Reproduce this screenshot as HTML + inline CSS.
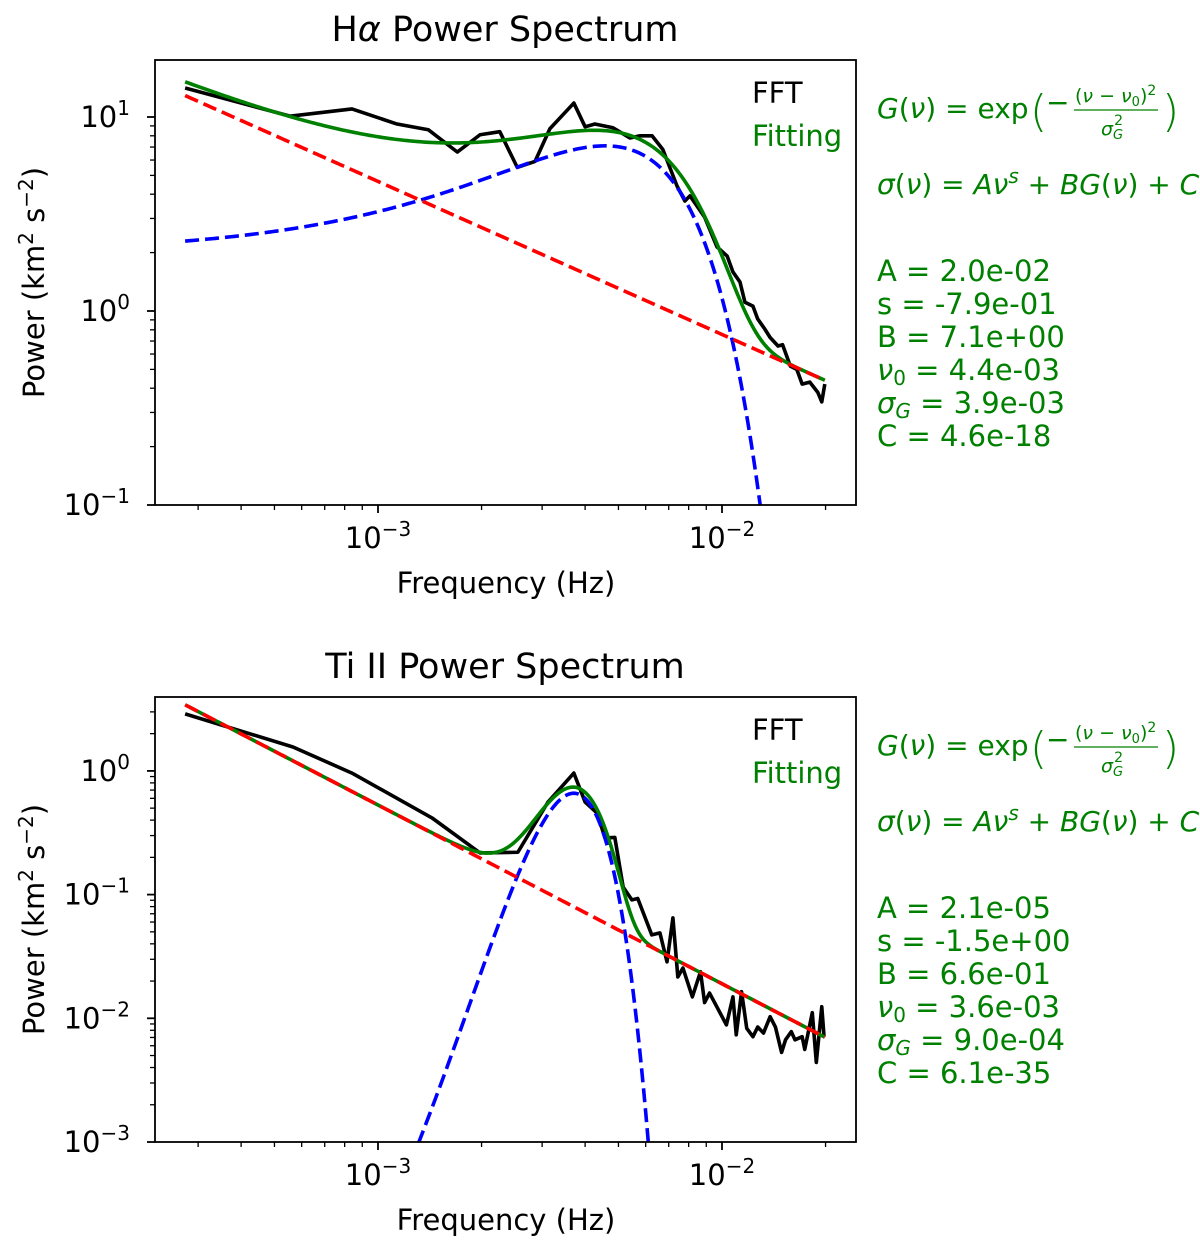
<!DOCTYPE html>
<html><head><meta charset="utf-8">
<style>
html,body{margin:0;padding:0;background:#fff;overflow:hidden;width:1200px;height:1245px;}
svg{display:block;font-family:"DejaVu Sans","Liberation Sans",sans-serif;}
</style></head>
<body>
<svg id="chart" width="1200" height="1245" viewBox="0 0 1200 1245" xmlns="http://www.w3.org/2000/svg"></svg>
<script>
// ---------- Data: H-alpha panel ----------
const haFreq = [2.75e-4,5.55e-4,8.4e-4,1.136e-3,1.40e-3,1.70e-3,1.98e-3,2.26e-3,2.54e-3,2.86e-3,3.16e-3,3.71e-3,4.0e-3,4.27e-3,4.82e-3,5.4e-3,5.78e-3,6.26e-3,6.73e-3,7.4e-3,7.8e-3,8.07e-3,8.9e-3,9.67e-3,1.035e-2,1.076e-2,1.128e-2,1.166e-2,1.23e-2,1.27e-2,1.33e-2,1.38e-2,1.455e-2,1.50e-2,1.58e-2,1.65e-2,1.71e-2,1.80e-2,1.90e-2,1.95e-2,1.99e-2];
const haPower = [14.1,10.1,11.0,9.2,8.6,6.6,8.1,8.4,5.5,5.9,8.7,11.8,8.9,9.2,8.8,7.8,8.0,8.0,6.8,4.41,3.69,3.92,3.05,2.14,1.92,1.59,1.41,1.11,1.06,0.91,0.81,0.73,0.66,0.67,0.52,0.50,0.42,0.43,0.38,0.34,0.42];
const haFit = {A:2.0e-2, s:-0.789, B:7.1, nu0:4.57e-3, sig:4.04e-3, C:4.6e-18};
const haParamText = ["A = 2.0e-02","s = -7.9e-01","B = 7.1e+00","ν0 = 4.4e-03","σG = 3.9e-03","C = 4.6e-18"];

// ---------- Data: Ti II panel ----------
const tiFreq = [2.75e-4,5.66e-4,8.4e-4,1.435e-3,1.98e-3,2.55e-3,3.12e-3,3.71e-3,4.0e-3,4.33e-3,4.57e-3,4.88e-3,5.16e-3,5.47e-3,5.69e-3,6.25e-3,6.6e-3,6.92e-3,7.2e-3,7.44e-3,7.7e-3,8.2e-3,8.66e-3,8.9e-3,9.2e-3,1.03e-2,1.076e-2,1.1e-2,1.14e-2,1.18e-2,1.23e-2,1.27e-2,1.32e-2,1.38e-2,1.43e-2,1.49e-2,1.53e-2,1.59e-2,1.63e-2,1.71e-2,1.74e-2,1.83e-2,1.88e-2,1.95e-2,1.98e-2];
const tiPower = [2.89,1.56,0.96,0.417,0.217,0.22,0.56,0.96,0.56,0.457,0.287,0.29,0.115,0.0906,0.093,0.0472,0.049,0.0286,0.0648,0.0216,0.0255,0.0149,0.0238,0.0134,0.016,0.00885,0.0149,0.00735,0.0164,0.0083,0.0071,0.0085,0.0076,0.0103,0.0085,0.0053,0.0067,0.0078,0.0067,0.0071,0.0056,0.0111,0.0044,0.0124,0.0071];
const tiFit = {A:2.45e-5, s:-1.445, B:0.66, nu0:3.71e-3, sig:9.4e-4, C:6.1e-35};
const tiParamText = ["A = 2.1e-05","s = -1.5e+00","B = 6.6e-01","ν0 = 3.6e-03","σG = 9.0e-04","C = 6.1e-35"];

const NS = "http://www.w3.org/2000/svg";
const svg = document.getElementById('chart');
function mk(tag, attrs, parent){
  const e = document.createElementNS(NS, tag);
  for (const k in attrs) e.setAttribute(k, attrs[k]);
  (parent||svg).appendChild(e);
  return e;
}

function drawPanel(p){
  const L=155, R=856, T=p.top, B=p.top+445;
  const xlmin=-3.648, xlmax=-3+(R-378)/344;
  const xs = v => 378 + 344*(Math.log10(v)+3);
  const ys = v => B - (Math.log10(v)-p.ylmin)*p.dec;
  const g = mk('g',{});
  
  

  const t = mk('text',{x:505,y:T-19,'font-size':35,'text-anchor':'middle'},g);
  
  
  t.innerHTML = p.titleHTML;

  const cp = mk('clipPath',{id:'clip-'+p.name},g);
  mk('rect',{x:L,y:T,width:R-L,height:B-T},cp);
  const plot = mk('g',{'clip-path':'url(#clip-'+p.name+')'},g);

  const grid=[]; const f0=2.75e-4, f1=1.99e-2;
  for(let i=0;i<=300;i++) grid.push(f0*Math.pow(f1/f0,i/300));
  const f=p.fit;
  const red = grid.map(v=>f.A*Math.pow(v,f.s));
  const blue = grid.map(v=>f.B*Math.exp(-Math.pow(v-f.nu0,2)/(f.sig*f.sig)));
  const green = grid.map((v,i)=>red[i]+blue[i]+f.C);
  const path = arr => grid.map((v,i)=>{const y=Math.min(Math.max(ys(Math.max(arr[i],1e-12)),-50),2000);return (i?'L':'M')+xs(v).toFixed(2)+','+y.toFixed(2);}).join('');

  const fft = mk('path',{d:p.freq.map((v,i)=>(i?'L':'M')+xs(v).toFixed(2)+','+ys(p.power[i]).toFixed(2)).join(''),fill:'none',stroke:'#000','stroke-width':3.6,'stroke-linejoin':'round'},plot);
  
  
  const gl = mk('path',{d:path(green),fill:'none',stroke:'#008000','stroke-width':3.6},plot);
  
  
  const bl = mk('path',{d:path(blue),fill:'none',stroke:'#0000ff','stroke-width':3.6,'stroke-dasharray':'14,6'},plot);
  
  
  const rl = mk('path',{d:path(red),fill:'none',stroke:'#ff0000','stroke-width':3.6,'stroke-dasharray':'14,6'},plot);
  
  

  const fr = mk('rect',{x:L,y:T,width:R-L,height:B-T,fill:'none',stroke:'#000','stroke-width':1.8},g);
  
  

  for(let d=-4; d<=-1; d++){
    for(let m=1;m<=9;m++){
      const v=m*Math.pow(10,d); const lv=Math.log10(v);
      if(lv<xlmin-1e-6||lv>xlmax+1e-6) continue;
      const x=xs(v);
      mk('line',{x1:x,y1:B,x2:x,y2:B+(m===1?8:5),stroke:'#000','stroke-width':m===1?1.8:1.3},g);
      if(m===1){
        const tl=mk('text',{x:x,y:B+43,'font-size':29,'text-anchor':'middle'},g);
        
        
        tl.innerHTML='10<tspan dy="-12" font-size="20">−'+(-d)+'</tspan>';
      }
    }
  }
  for(let d=p.ylmin; d<=2; d++){
    for(let m=1;m<=9;m++){
      const v=m*Math.pow(10,d); const lv=Math.log10(v);
      if(lv<p.ylmin-1e-6||lv>p.ylmax+1e-6) continue;
      const y=ys(v);
      mk('line',{x1:L,y1:y,x2:L-(m===1?8:5),y2:y,stroke:'#000','stroke-width':m===1?1.8:1.3},g);
      if(m===1){
        const tl=mk('text',{x:L-25,y:y+10,'font-size':29,'text-anchor':'end'},g);
        
        
        tl.innerHTML='10<tspan dy="-12" font-size="20">'+(d<0?'−'+(-d):d)+'</tspan>';
      }
    }
  }
  const xl=mk('text',{x:506,y:B+88,'font-size':29,'text-anchor':'middle'},g);
  
  
  xl.textContent='Frequency (Hz)';
  const yl=mk('text',{x:0,y:0,'font-size':29,'text-anchor':'middle',transform:'translate(44,'+((T+B)/2)+') rotate(-90)'},g);
  
  
  yl.innerHTML='Power (km<tspan dy="-11" font-size="20">2</tspan><tspan dy="11"> s</tspan><tspan dy="-11" font-size="20">−2</tspan><tspan dy="11">)</tspan>';

  const l1=mk('text',{x:752,y:T+43,'font-size':29},g);
  
  
  l1.textContent='FFT';
  const l2=mk('text',{x:752,y:T+86,'font-size':29,fill:'#008000'},g);
  
  
  l2.textContent='Fitting';

  const eg = mk('g',{fill:'#008000'},g);
  
  
  const y1=T+58;
  mk('text',{x:877,y:y1,'font-size':28},eg).innerHTML='<tspan font-style="italic">G</tspan>(<tspan font-style="italic">ν</tspan>) = exp';
  mk('text',{x:1030,y:y1+8,'font-size':44,'font-weight':'100'},eg).textContent='(';
  mk('text',{x:1046,y:y1-6,'font-size':28},eg).textContent='−';
  mk('text',{x:1075,y:y1-16,'font-size':19},eg).innerHTML='(<tspan font-style="italic">ν</tspan> − <tspan font-style="italic">ν</tspan><tspan font-size="13" dy="4">0</tspan><tspan dy="-4">)</tspan><tspan font-size="14" dy="-7">2</tspan>';
  mk('line',{x1:1074,y1:y1-8,x2:1158,y2:y1-8,stroke:'#008000','stroke-width':1.3},eg);
  mk('text',{x:1101,y:y1+17,'font-size':19},eg).innerHTML='<tspan font-style="italic">σ</tspan><tspan font-size="13" dy="4" font-style="italic">G</tspan><tspan font-size="14" dx="-9" dy="-14">2</tspan>';
  mk('text',{x:1162,y:y1+8,'font-size':44,'font-weight':'100'},eg).textContent=')';
  mk('text',{x:877,y:T+134,'font-size':28},eg).innerHTML='<tspan font-style="italic">σ</tspan>(<tspan font-style="italic">ν</tspan>) = <tspan font-style="italic">Aν</tspan><tspan font-style="italic" font-size="20" dy="-11">s</tspan><tspan dy="11"> + </tspan><tspan font-style="italic">BG</tspan>(<tspan font-style="italic">ν</tspan>) + <tspan font-style="italic">C</tspan>';
  p.params.forEach((s,i)=>{
    const tx=mk('text',{x:877,y:T+221+i*33,'font-size':29,fill:'#008000'},g);
    
    
    if(s.startsWith('ν0')) tx.innerHTML='<tspan font-style="italic">ν</tspan><tspan font-size="20" dy="5">0</tspan><tspan dy="-5">'+s.slice(2)+'</tspan>';
    else if(s.startsWith('σG')) tx.innerHTML='<tspan font-style="italic">σ</tspan><tspan font-size="20" dy="5" font-style="italic">G</tspan><tspan dy="-5">'+s.slice(2)+'</tspan>';
    else tx.textContent=s;
  });
}

drawPanel({name:'halpha', top:60, ylmin:-1, dec:194, ylmax:-1+445/194, freq:haFreq, power:haPower, fit:haFit, params:haParamText,
  titleHTML:'H<tspan font-style="italic">α</tspan> Power Spectrum'});
drawPanel({name:'tiii', top:697, ylmin:-3, dec:123.7, ylmax:-3+445/123.7, freq:tiFreq, power:tiPower, fit:tiFit, params:tiParamText,
  titleHTML:'Ti II Power Spectrum'});
</script>
</body></html>
